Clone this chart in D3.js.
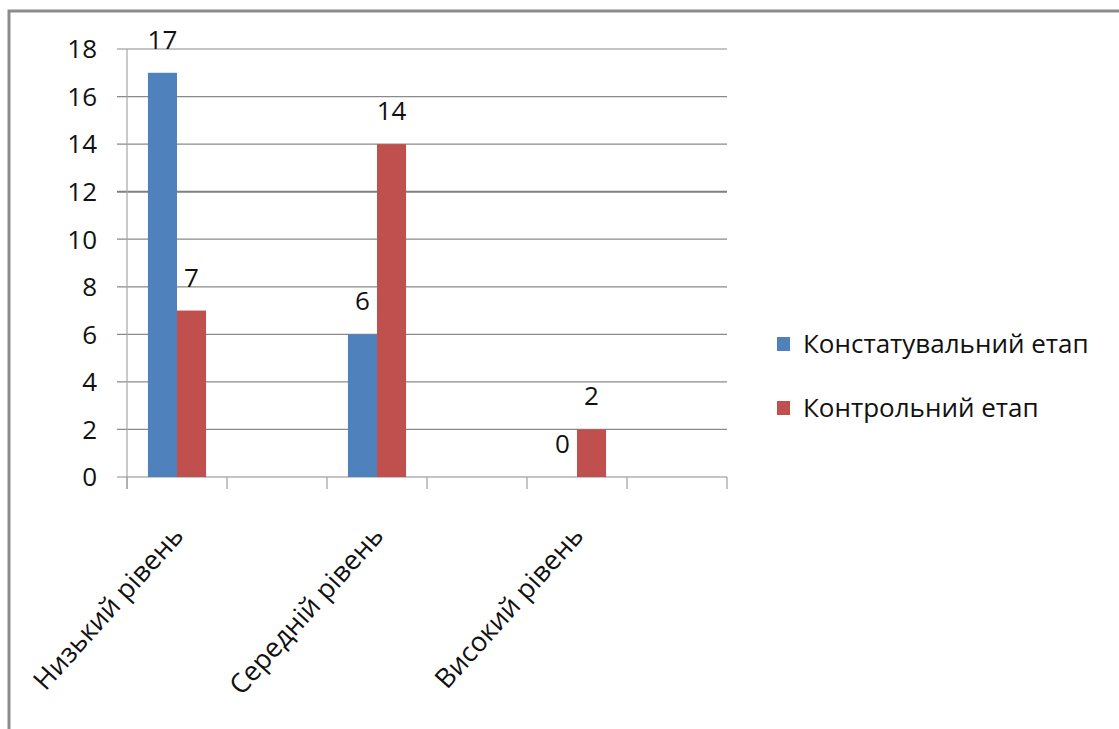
<!DOCTYPE html>
<html>
<head>
<meta charset="utf-8">
<script src="https://cdnjs.cloudflare.com/ajax/libs/d3/7.8.5/d3.min.js"></script>
<style>
  html, body { margin: 0; padding: 0; background: #fff; }
  svg { display: block; font-family: "Open Sans", "DejaVu Sans", sans-serif; }
</style>
</head>
<body>
<svg id="chart" width="1119" height="729"></svg>
<script>
// slots on the category axis (empty ones are blank categories in the source chart)
const categories = ['Низький рівень', '', 'Середній рівень', '', 'Високий рівень', ''];
const seriesNames = ['Констатувальний етап', 'Контрольний етап'];
const konstatValues = [17, null, 6, null, 0, null];
const kontrolValues = [7, null, 14, null, 2, null];
const yTicks = [0, 2, 4, 6, 8, 10, 12, 14, 16, 18];
const colors = ['#4F81BD', '#C0504D'];

const svg = d3.select('#chart');

// outer frame (runs off the right and bottom edges)
svg.append('rect')
  .attr('x', 9).attr('y', 11)
  .attr('width', 1130).attr('height', 740)
  .attr('fill', 'none')
  .attr('stroke', '#8c8c8c')
  .attr('stroke-width', 3);

const plot = { left: 127, right: 727, top: 49, bottom: 477 };

const x = d3.scaleBand()
  .domain(d3.range(categories.length))
  .range([plot.left, plot.right]);

const xInner = d3.scaleBand()
  .domain([0, 1])
  .range([0, x.bandwidth()])
  .paddingOuter(0.72)
  .paddingInner(0);

const y = d3.scaleLinear().domain([0, 18]).range([plot.bottom, plot.top]);

// gridlines
svg.append('g')
  .selectAll('line')
  .data(yTicks)
  .join('line')
  .attr('x1', plot.left - 10)
  .attr('x2', plot.right)
  .attr('y1', d => y(d))
  .attr('y2', d => y(d))
  .attr('stroke', d => d === 12 ? '#7f7f7f' : '#8a8a8a')
  .attr('stroke-width', d => d === 12 ? 2 : 1.2);

// y axis line
svg.append('line')
  .attr('x1', plot.left).attr('x2', plot.left)
  .attr('y1', plot.top).attr('y2', plot.bottom + 12)
  .attr('stroke', '#a6a6a6').attr('stroke-width', 1.2);

// y tick labels
svg.append('g')
  .selectAll('text')
  .data(yTicks)
  .join('text')
  .attr('x', 97)
  .attr('y', d => y(d))
  .attr('dy', '0.36em')
  .attr('text-anchor', 'end')
  .attr('font-size', 26)
  .attr('fill', '#111')
  .text(d => d);

// x ticks at slot boundaries
const xBounds = d3.range(categories.length + 1).map(i => plot.left + i * x.step());
svg.append('g')
  .selectAll('line')
  .data(xBounds)
  .join('line')
  .attr('x1', d => d).attr('x2', d => d)
  .attr('y1', plot.bottom).attr('y2', plot.bottom + 12)
  .attr('stroke', '#a0a0a0').attr('stroke-width', 1.2);

// bars
const series = [konstatValues, kontrolValues];
const rows = [];
series.forEach((vals, s) => vals.forEach((v, i) => { if (v !== null) rows.push({ i, s, v }); }));

svg.append('g')
  .selectAll('rect')
  .data(rows)
  .join('rect')
  .attr('x', d => x(d.i) + xInner(d.s))
  .attr('width', xInner.bandwidth())
  .attr('y', d => y(d.v))
  .attr('height', d => y(0) - y(d.v))
  .attr('fill', d => colors[d.s]);

// value labels
svg.append('g')
  .selectAll('text')
  .data(rows)
  .join('text')
  .attr('x', d => x(d.i) + xInner(d.s) + xInner.bandwidth() / 2)
  .attr('y', d => y(d.v) - 24)
  .attr('text-anchor', 'middle')
  .attr('font-size', 26)
  .attr('fill', '#111')
  .text(d => d.v);

// rotated category labels
svg.append('g')
  .selectAll('text')
  .data(categories.map((c, i) => ({ c, i })).filter(d => d.c))
  .join('text')
  .attr('transform', d => `translate(${x(d.i) + x.bandwidth() / 2 + 8},${plot.bottom + 60}) rotate(-48)`)
  .attr('text-anchor', 'end')
  .attr('font-size', 27)
  .attr('fill', '#111')
  .text(d => d.c);

// legend
const legend = svg.append('g')
  .selectAll('g')
  .data(seriesNames)
  .join('g')
  .attr('transform', (d, i) => `translate(777,${344 + i * 64})`);

legend.append('rect')
  .attr('x', 0).attr('y', -7)
  .attr('width', 13).attr('height', 14)
  .attr('fill', (d, i) => colors[i]);

legend.append('text')
  .attr('x', 26)
  .attr('dy', '0.36em')
  .attr('font-size', 26)
  .attr('fill', '#111')
  .text(d => d);
</script>
</body>
</html>
